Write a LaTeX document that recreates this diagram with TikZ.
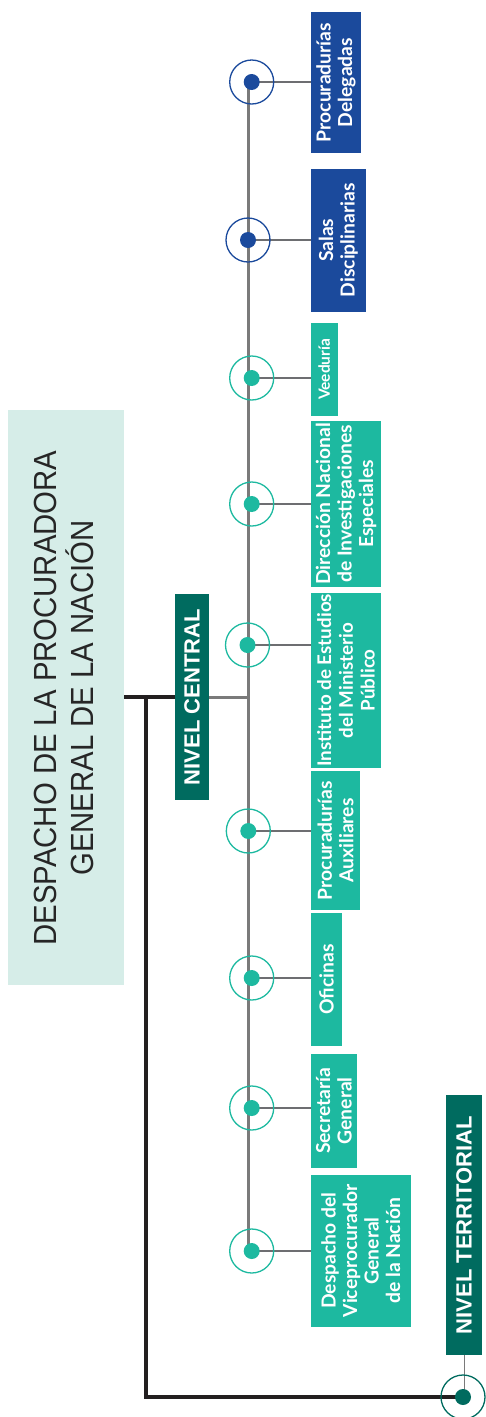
\documentclass[tikz,border=0pt]{standalone}
\usepackage{graphicx}
\usepackage{fontspec}
\setmainfont{Liberation Sans}
\newfontfamily\boxfont{Lato}
\usetikzlibrary{backgrounds}
\definecolor{teal1}{HTML}{1DB9A0}
\definecolor{blue1}{HTML}{1B4A9C}
\definecolor{dteal}{HTML}{006B5F}
\definecolor{mint}{HTML}{D6EDE8}
\definecolor{lgray}{HTML}{7A7A7A}
\definecolor{bgray}{HTML}{6D6E71}
\definecolor{blk}{HTML}{231F20}
\definecolor{txt}{HTML}{262626}
\begin{document}
\begin{tikzpicture}[x=1pt,y=-1pt,
  box/.style={inner sep=0pt, outer sep=0pt, draw=none},
  tbox/.style={box, fill=teal1},
  bbox/.style={box, fill=blue1},
  dbox/.style={box, fill=dteal},
  lab/.style={rotate=90, text=white, align=center, inner sep=0pt, font=\boxfont\bfseries\fontsize{19.3}{21.5}\selectfont},
  smalllab/.style={lab, font=\boxfont\bfseries\fontsize{15.5}{18}\selectfont},
  levellab/.style={rotate=90, text=white, inner sep=0pt, font=\bfseries\fontsize{22}{24}\selectfont},
  ringc/.style={circle, draw=#1, line width=1.3pt, minimum size=44pt, inner sep=0pt, outer sep=0pt},
  dotc/.style={circle, fill=#1, minimum size=16pt, inner sep=0pt, outer sep=0pt},
  mainline/.style={lgray, line width=3pt},
  branch/.style={bgray, line width=2.8pt},
  blackline/.style={blk, line width=3.2pt},
]
\useasboundingbox (0,0) rectangle (485,1417);

% main box
\node[box, fill=mint, minimum width=116pt, minimum height=575pt] (main) at (66,697) {};
\node[rotate=90, align=center, text=txt, inner sep=0pt, font=\fontsize{32}{37.3}\selectfont] (maint) at (64,698)
  {\scalebox{0.917}[1]{DESPACHO DE LA PROCURADORA}\\\scalebox{0.917}[1]{GENERAL DE LA NACIÓN}};

% level boxes
\node[dbox, minimum width=34pt, minimum height=206pt] (nc) at (192,697) {};
\node[levellab] (nct) at (nc) {NIVEL CENTRAL};
\node[dbox, minimum width=36pt, minimum height=260pt] (nt) at (464,1225) {};
\node[levellab] (ntt) at (nt) {NIVEL TERRITORIAL};

% unit boxes
\node[bbox, minimum width=50pt, minimum height=141pt] (b1) at (336,82.5) {};
\node[lab] (t1) at (b1) {Procuradurías\\Delegadas};
\node[bbox, minimum width=54.7pt, minimum height=142.7pt] (b2) at (338.4,240.3) {};
\node[lab] (t2) at (b2) {Salas\\Disciplinarias};
\node[tbox, minimum width=26.7pt, minimum height=92.7pt] (b3) at (324.3,369.3) {};
\node[smalllab] (t3) at (b3) {Veeduría};
\node[tbox, minimum width=70pt, minimum height=165.7pt] (b4) at (346,503.8) {};
\node[lab] (t4) at (b4) {Dirección Nacional\\de Investigaciones\\Especiales};
\node[tbox, minimum width=70pt, minimum height=174.7pt] (b5) at (346,680.3) {};
\node[lab, font=\boxfont\bfseries\fontsize{18.8}{21.8}\selectfont] (t5) at (b5) {Instituto de Estudios\\del Ministerio\\Público};
\node[tbox, minimum width=49pt, minimum height=139pt] (b6) at (335.5,840.5) {};
\node[lab] (t6) at (b6) {Procuradurías\\Auxiliares};
\node[tbox, minimum width=31pt, minimum height=132.7pt] (b7) at (326.5,979.3) {};
\node[lab] (t7) at (b7) {Oficinas};
\node[tbox, minimum width=45.7pt, minimum height=113.7pt] (b8) at (333.8,1110.8) {};
\node[lab] (t8) at (b8) {Secretaría\\General};
\node[tbox, minimum width=99.7pt, minimum height=151.7pt] (b9) at (360.8,1250.8) {};
\node[lab] (t9) at (b9) {Despacho del\\Viceprocurador\\General\\de la Nación};

% rings and dots
\foreach \i/\x/\y/\c in {1/251.7/82/blue1, 2/248/240/blue1, 3/251.7/378/teal1, 4/251.7/504/teal1,
  5/247.5/645/teal1, 6/248.3/831/teal1, 7/251.7/978/teal1, 8/251.7/1108/teal1, 9/251.7/1251/teal1, 10/463/1397/dteal} {
  \node[ringc=\c] (r\i) at (\x,\y) {};
  \node[dotc=\c] (d\i) at (\x,\y) {};
}

\coordinate (vtop) at (248,82);
\coordinate (vbot) at (248,1251);
\coordinate (tj) at (146,697);
\coordinate (bc) at (146,1397);

\begin{pgfonlayer}{background}
  \draw[mainline] (vtop) -- (vbot);
  \foreach \i in {1,...,9} { \draw[branch] (d\i.center) -- (d\i.center -| b\i.west); }
  \draw[mainline] (nc.east) -- (nc.east -| vtop);
  \draw[blackline] (main.east) -- (nc.west);
  \draw[blackline, line join=miter] (tj) -- (bc) -- (d10.center);
  \draw[lgray, line width=1pt] (nt.south) -- (nt.south |- d10.center);
\end{pgfonlayer}
\end{tikzpicture}
\end{document}
